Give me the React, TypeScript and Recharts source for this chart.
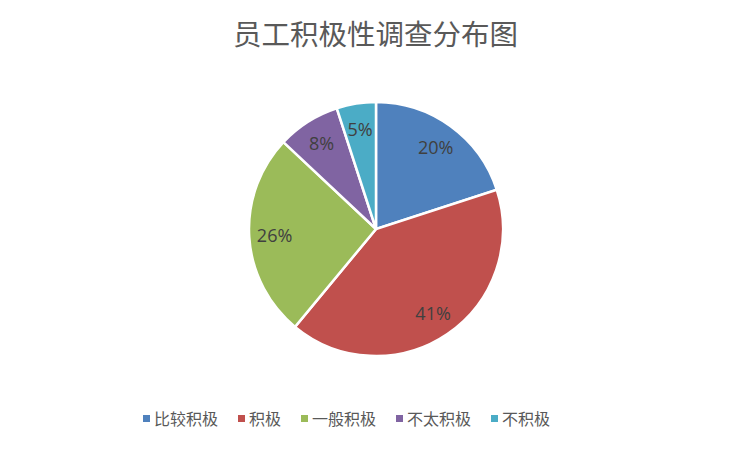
import { PieChart, Pie, Cell, Legend } from 'recharts';

const categories = ['比较积极', '积极', '一般积极', '不太积极', '不积极'];
const values = [20, 41, 26, 8, 5];
const colors = ['#4F81BD', '#C0504D', '#9BBB59', '#8064A2', '#4BACC6'];

const data = categories.map((name, i) => ({ name, value: values[i] }));

const RAD = Math.PI / 180;

const renderLabel = (p: any) => {
  const r = p.outerRadius * 0.8;
  const x = p.cx + r * Math.cos(-p.midAngle * RAD);
  const y = p.cy + r * Math.sin(-p.midAngle * RAD);
  return (
    <text x={x} y={y} fill="#404040" fontSize={18} fontFamily="'Open Sans', sans-serif"
      textAnchor="middle" dominantBaseline="central">
      {`${Math.round(p.percent * 100)}%`}
    </text>
  );
};

const legendContent = () => (
  <div style={{ display: 'flex', gap: 20, fontFamily: "'Noto Sans CJK SC', sans-serif", fontSize: 16, color: '#595959' }}>
    {categories.map((c, i) => (
      <div key={c} style={{ display: 'flex', alignItems: 'center' }}>
        <span style={{ width: 7, height: 7, background: colors[i], marginRight: 4 }} />
        <span>{c}</span>
      </div>
    ))}
  </div>
);

export default function App() {
  return (
    <div style={{ position: 'absolute', left: 0, top: 0, width: 751, height: 451, background: '#fff' }}>
      <div style={{
        position: 'absolute', top: 13, left: 0, width: 751, textAlign: 'center',
        fontFamily: "'Noto Sans CJK SC', sans-serif", fontSize: 28.5, color: '#595959', lineHeight: '40px',
      }}>
        员工积极性调查分布图
      </div>
      <PieChart width={751} height={451} margin={{ top: 0, right: 0, bottom: 0, left: 0 }}>
        <Pie
          data={data}
          dataKey="value"
          nameKey="name"
          cx={376}
          cy={229}
          outerRadius={127}
          startAngle={90}
          endAngle={-270}
          stroke="#fff"
          strokeWidth={2.5}
          label={renderLabel}
          labelLine={false}
          isAnimationActive={false}
        >
          {data.map((d, i) => <Cell key={d.name} fill={colors[i]} />)}
        </Pie>
        <Legend content={legendContent} wrapperStyle={{ position: 'absolute', left: 143, top: 406, width: 'auto' }} />
      </PieChart>
    </div>
  );
}
